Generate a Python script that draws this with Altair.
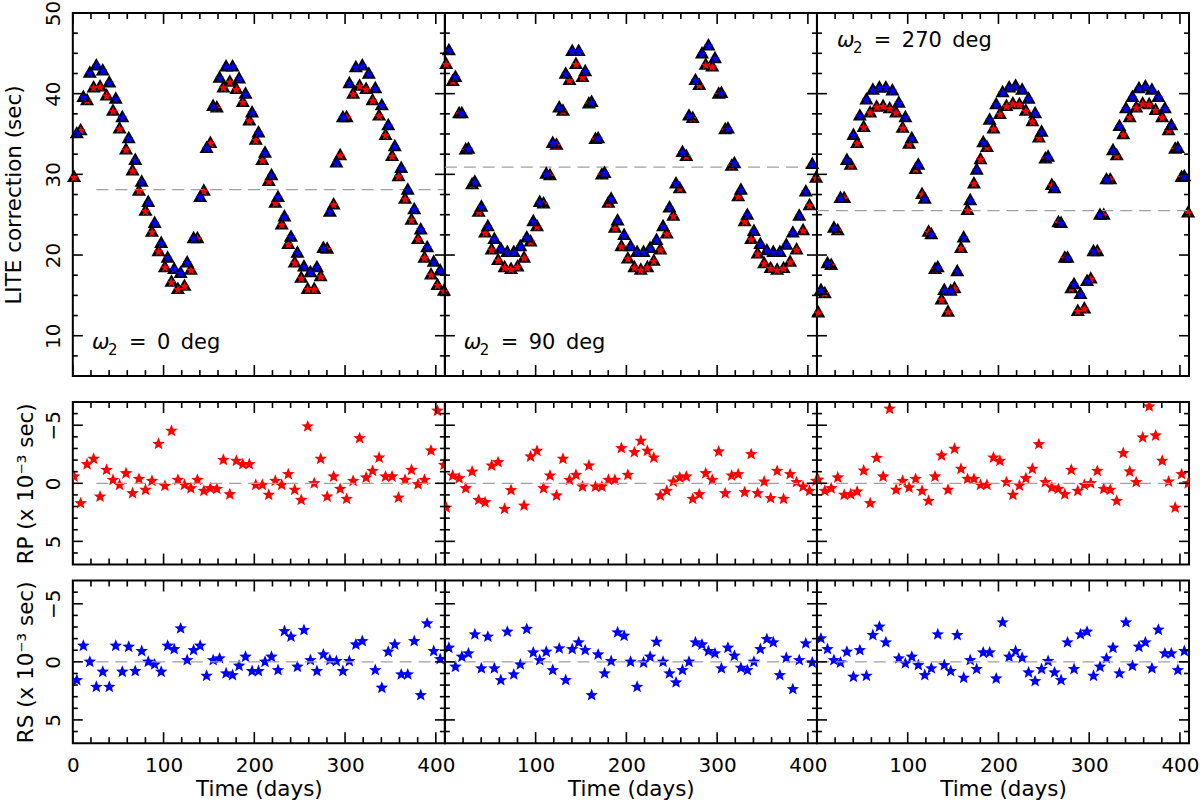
import altair as alt
import pandas as pd

# ---------------- data ----------------
t_red = [1.4, 8.6, 15.7, 22.9, 30.0, 37.2, 44.3, 51.5, 58.6, 65.8, 72.9, 80.1, 87.2, 94.4,
         101.5, 108.7, 115.8, 123.0, 130.1, 137.3, 144.4, 151.6, 158.7, 165.9, 173.0, 180.2,
         187.3, 194.5, 201.6, 208.8, 215.9, 223.1, 230.2, 237.4, 244.5, 251.7, 258.8, 266.0,
         273.1, 280.3, 287.4, 294.6, 301.7, 308.9, 316.0, 323.2, 330.3, 337.5, 344.6, 351.8,
         358.9, 366.1, 373.2, 380.4, 387.5, 394.7, 401.8, 409.0]
t_blue = [4.4, 11.6, 18.7, 25.9, 33.0, 40.2, 47.3, 54.5, 61.6, 68.8, 75.9, 83.1, 90.2, 97.4,
          104.5, 111.7, 118.8, 126.0, 133.1, 140.3, 147.4, 154.6, 161.7, 168.9, 176.0, 183.2,
          190.3, 197.5, 204.6, 211.8, 218.9, 226.1, 233.2, 240.4, 247.5, 254.7, 261.8, 269.0,
          276.1, 283.3, 290.4, 297.6, 304.7, 311.9, 319.0, 326.2, 333.3, 340.5, 347.6, 354.8,
          361.9, 369.1, 376.2, 383.4, 390.5, 397.7, 404.8]

lite_red_w0 = [29.6, 35.4, 39.1, 40.7, 40.8, 39.7, 37.8, 35.6, 33.0, 30.4, 27.9, 25.4, 22.8, 20.4,
               18.4, 16.6, 15.7, 16.1, 18.1, 22.0, 27.9, 33.8, 38.2, 40.7, 41.4, 40.5, 38.9, 36.6,
               34.2, 31.7, 29.1, 26.4, 23.7, 21.3, 19.0, 17.1, 15.7, 15.7, 17.3, 20.7, 26.2, 32.3,
               37.0, 39.9, 40.9, 40.5, 39.1, 37.2, 34.8, 32.2, 29.7, 26.9, 24.3, 21.9, 19.6, 17.5,
               16.2, 15.5]
lite_blue_w0 = [35.0, 39.5, 42.5, 43.4, 42.8, 41.3, 39.3, 37.0, 34.4, 31.7, 29.0, 26.5, 23.9, 21.4,
                19.6, 18.2, 17.7, 19.0, 22.0, 27.1, 33.2, 38.4, 41.9, 43.3, 43.3, 41.8, 39.9, 37.6,
                35.1, 32.6, 29.8, 27.1, 24.7, 22.2, 20.2, 18.5, 17.8, 18.4, 20.8, 25.3, 31.4, 37.0,
                41.2, 43.2, 43.4, 42.4, 40.6, 38.5, 36.0, 33.4, 30.7, 28.0, 25.6, 23.1, 20.9, 19.1,
                18.0]
lite_red_w90 = [43.6, 41.5, 37.5, 33.0, 28.7, 25.3, 22.7, 20.6, 19.3, 18.4, 18.2, 18.5, 19.6, 21.6,
                23.5, 26.3, 29.8, 33.6, 37.8, 41.6, 43.6, 42.0, 38.7, 34.3, 29.9, 26.4, 23.3, 21.0,
                19.5, 18.4, 18.1, 18.4, 19.2, 20.6, 22.6, 24.8, 28.2, 32.2, 36.9, 41.0, 43.5, 43.3,
                39.9, 35.5, 31.0, 27.2, 24.1, 21.9, 20.1, 18.9, 18.3, 18.1, 18.3, 19.1, 20.6, 23.0,
                26.1, 29.5]
lite_blue_w90 = [45.3, 42.0, 37.5, 33.1, 29.0, 25.9, 23.5, 21.9, 20.7, 20.3, 20.3, 21.0, 22.1, 24.1,
                 26.5, 30.0, 33.8, 38.2, 42.4, 45.2, 45.2, 42.7, 38.9, 34.4, 30.1, 26.9, 24.2, 22.4,
                 21.0, 20.3, 20.3, 20.8, 21.8, 23.5, 25.8, 28.8, 32.7, 37.2, 41.6, 44.9, 45.9, 44.3,
                 40.0, 35.6, 31.3, 28.0, 24.9, 22.9, 21.3, 20.5, 20.3, 20.3, 21.2, 22.7, 24.8, 27.8,
                 31.2]
lite_red_w270 = [12.8, 15.2, 18.7, 23.0, 27.0, 31.1, 33.8, 35.8, 37.6, 38.3, 38.4, 38.1, 37.6, 35.7,
                 33.7, 30.6, 27.5, 22.8, 18.2, 14.4, 12.9, 15.8, 20.8, 25.5, 28.8, 31.8, 33.3, 35.6,
                 37.4, 38.4, 38.7, 38.6, 37.8, 36.5, 34.5, 31.9, 28.6, 24.0, 19.6, 15.8, 13.0, 13.3,
                 17.0, 20.4, 24.9, 29.3, 32.3, 34.9, 37.0, 38.2, 38.7, 38.6, 37.9, 37.0, 35.4, 33.1,
                 29.6, 25.2]
lite_blue_w270 = [15.6, 18.9, 23.3, 27.0, 31.7, 34.8, 37.2, 39.2, 40.4, 40.7, 40.7, 40.3, 38.8, 37.0,
                  34.4, 31.1, 26.9, 22.5, 18.4, 15.6, 15.5, 17.9, 22.1, 26.7, 30.5, 33.9, 36.7, 38.6,
                  40.1, 40.7, 40.9, 40.4, 39.3, 37.5, 35.2, 32.1, 28.2, 23.9, 19.6, 16.3, 15.1, 16.7,
                  20.4, 24.9, 29.3, 32.9, 35.9, 38.1, 39.5, 40.6, 40.8, 40.4, 39.5, 38.1, 36.0, 33.2,
                  29.7]

rp_w0 = [-0.58, 1.72, -1.63, -2.1, 1.15, -1.15, -0.29, 0.14, -0.86, 0.86, -0.37, 0.57, -0.2, -3.39,
         0.23, -4.51, -0.29, 0.14, 0.43, -0.29, 0.66, 0.43, 0.49, -2.01, 0.95, -1.93, -1.64, -1.64,
         0.14, 0.14, 1.0, -0.2, 0.14, -0.78, 0.57, 1.44, -4.89, 0.0, -2.1, 1.15, -0.58, 0.49, 1.35,
         -0.2, -3.88, -0.49, -1.06, -2.21, -0.58, -0.58, 1.24, -0.29, -1.15, 0.09, -0.29, -2.82,
         -6.24, -1.58]
rs_w0 = [1.58, -1.38, 0.0, 2.16, 0.86, 2.16, -1.38, 0.86, -1.29, 0.8, -0.92, 0.0, 0.23, 0.86, -1.38,
         -1.09, -2.87, -0.14, -1.0, -1.38, 1.21, -0.14, -0.29, 1.0, 1.15, 0.34, -0.43, 0.8, 0.8, 0.0,
         -0.43, 0.72, -2.64, -2.16, 0.43, -2.73, -0.14, 0.8, -0.63, -0.14, -0.06, 0.8, -0.06, -1.49,
         -1.78, None, 0.72, 2.24, -0.86, -1.49, 1.09, 1.09, -1.78, 2.87, -3.3, -0.92, -0.23]
rp_w90 = [2.1, -0.66, -0.43, 0.43, -1.0, 1.44, 1.64, -1.52, -1.81, 2.21, 0.6, None, 1.93, -2.3,
          -2.79, 0.43, -0.66, 1.06, -2.1, -0.29, -0.72, 0.29, -1.52, 0.29, 0.29, -0.29, -0.29,
          -3.02, -0.72, -2.67, -3.65, -2.79, -2.21, 1.06, 0.66, -0.14, -0.49, -0.58, 1.35, 0.95,
          -0.86, -0.29, -2.73, 0.86, -0.66, -0.78, 0.78, -2.5, 0.86, -0.14, 1.29, -1.06, 1.35,
          -0.78, -0.09, 0.29, 0.66, -0.2]
rs_w90 = [-1.21, 0.43, -0.43, -0.72, -2.36, 0.57, -2.16, 0.57, 1.58, -2.59, 1.09, 0.23, -2.82, -0.8,
          -0.14, -0.86, 0.72, -1.15, 1.58, -1.09, -1.67, -1.0, 2.87, -0.63, 1.0, -0.06, -2.53, -2.24,
          0.0, 2.16, 0.06, -0.43, -1.72, 0.0, 1.0, 1.78, 0.72, 0.0, -1.67, -1.49, -0.92, -0.72, 0.57,
          -1.21, -0.52, 0.52, 0.72, 0.0, -1.09, -1.95, -1.67, 1.15, -0.34, 2.36, -0.14, -1.58, 0.06]
rp_w270 = [-0.3, 0.66, 0.43, -0.49, 1.0, 0.95, 0.72, -1.09, 1.72, -2.18, -0.58, -6.41, 0.57, -0.2,
           0.37, -0.37, 0.66, 1.52, -0.58, -2.39, 0.57, -2.96, -1.24, -0.37, -0.37, 0.14, 0.14,
           -2.21, -1.93, -0.09, 1.0, 0.2, -0.43, -1.24, -3.36, -0.09, 0.37, 0.49, 0.95, -1.15, 0.66,
           0.14, 0.0, -1.06, 0.49, 0.57, 1.52, -2.59, -1.01, -0.09, -3.94, -6.61, -4.11, -1.93,
           -0.14, 2.1, -0.78, 0.0]
rs_w270 = [-2.01, -1.09, -0.14, 0.06, -0.86, 1.29, -1.0, 1.21, -2.3, -3.02, -1.67, None, -0.29, 0.14,
           -0.43, 0.29, 1.15, 0.57, -2.36, 0.29, 0.8, -2.3, 1.38, -0.14, 0.63, -0.8, -0.8, 1.44,
           -3.39, -0.43, -0.92, -0.34, 0.92, 1.67, 0.63, -0.06, 0.92, 1.58, -1.67, 0.63, -2.36,
           -2.59, 1.21, 0.43, -0.29, -1.21, 1.0, -3.39, 0.34, -1.29, -1.67, 0.57, -2.76, -0.72,
           -0.72, 0.72, -0.92]

lite_mean = [28.1, 30.9, 25.5]
dash_start = [26, 0, 0]
omega_values = ["0", "90", "270"]
omega_x = [21.2, 20.9, 22.0]
omega_y = [8.4, 8.4, 45.8]

x_labels_first = [0, 100, 200, 300, 400]
x_labels_other = [100, 200, 300, 400]
x_major = [0, 100, 200, 300, 400]
x_minor = [20, 40, 60, 80, 120, 140, 160, 180, 220, 240, 260, 280, 320, 340, 360, 380]
lite_major = [10, 20, 30, 40, 50]
lite_minor = [7.5, 12.5, 15, 17.5, 22.5, 25, 27.5, 32.5, 35, 37.5, 42.5, 45, 47.5]
res_major = [-5, 0, 5]
res_minor = [-6, -4, -3, -2, -1, 1, 2, 3, 4, 6]

# ---------------- styling ----------------
FONT = "DejaVu Sans"
W = 373
HT = 364
HR = 163
LEFT_EXT = 72
TRI = "M0,-1.15L1,0.62L-1,0.62Z"
STAR = ("M0,-1L0.26,-0.34L0.95,-0.31L0.41,0.13L0.59,0.81L0,0.43L-0.59,0.81L-0.41,0.13"
        "L-0.95,-0.31L-0.26,-0.34Z")
RED = "#ff0000"
BLUE = "#0000ff"

XS = alt.Scale(domain=[0, 410], nice=False, zero=False)
YS_T = alt.Scale(domain=[5, 50], nice=False, zero=False)
YS_R = alt.Scale(domain=[-7, 7], nice=False, zero=False, reverse=True)


def x_axis(bottom, c):
    if not bottom:
        return None
    return alt.Axis(values=x_labels_first if c == 0 else x_labels_other, format="d",
                    labelFlush=False, ticks=False, tickSize=0, domain=False, grid=False,
                    title="Time (days)", labelFontSize=20, titleFontSize=21.5,
                    labelPadding=12, titlePadding=3, labelOverlap=False)


def y_axis(first, values, title, tpad):
    if not first:
        return None
    return alt.Axis(values=values, labelAngle=-90, ticks=False, tickSize=0, domain=False,
                    grid=False, title=title, labelFontSize=20, titleFontSize=21.5,
                    labelPadding=9, titlePadding=tpad, labelOverlap=False)


def tick_layers(xa, ya, yscale, ymaj, ymin, H):
    out = []
    for vals, L in ((ymaj, 10), (ymin, 5)):
        d = alt.Chart(pd.DataFrame({"v": vals})).mark_rule(color="black", strokeWidth=1.6)
        yy = alt.Y("v:Q", scale=yscale, axis=ya)
        out.append(d.encode(y=yy, x=alt.value(0), x2=alt.value(L)))
        out.append(d.encode(y=yy, x=alt.value(W), x2=alt.value(W - L)))
    for vals, L in ((x_major, 11), (x_minor, 6)):
        d = alt.Chart(pd.DataFrame({"v": vals})).mark_rule(color="black", strokeWidth=1.6)
        xx = alt.X("v:Q", scale=XS, axis=xa)
        out.append(d.encode(x=xx, y=alt.value(H), y2=alt.value(H - L)))
        out.append(d.encode(x=xx, y=alt.value(0), y2=alt.value(L)))
    return out


def spacer(H):
    # invisible, empty text that gives every row the same left extent
    return alt.Chart(pd.DataFrame({"s": [""]})).mark_text(opacity=0).encode(
        x=alt.value(-LEFT_EXT), y=alt.value(H / 2), text="s:N")


def dashed(c, yval, yscale, xa, ya):
    d = pd.DataFrame({"x0": [dash_start[c]], "x1": [410], "y": [yval]})
    return alt.Chart(d).mark_rule(color="#a0a0a0", strokeDash=[12, 7], strokeWidth=1.3).encode(
        x=alt.X("x0:Q", scale=XS, axis=xa), x2="x1:Q",
        y=alt.Y("y:Q", scale=yscale, axis=ya))


def top_panel(c, red, blue):
    xa = x_axis(False, c)
    ya = y_axis(c == 0, lite_major, "LITE correction (sec)", 18)
    dr = pd.DataFrame({"t": t_red, "v": red})
    db = pd.DataFrame({"t": t_blue, "v": blue})
    enc = dict(x=alt.X("t:Q", scale=XS, axis=xa), y=alt.Y("v:Q", scale=YS_T, axis=ya))
    tri_r = alt.Chart(dr).mark_point(shape=TRI, filled=True, color="black", size=200,
                                     opacity=1, strokeWidth=0).encode(**enc)
    star_r = alt.Chart(dr).mark_point(shape=STAR, filled=True, color=RED, size=95,
                                      opacity=1, strokeWidth=0).encode(**enc)
    tri_b = alt.Chart(db).mark_point(shape=TRI, filled=True, color="black", size=200,
                                     opacity=1, strokeWidth=0).encode(**enc)
    star_b = alt.Chart(db).mark_point(shape=STAR, filled=True, color=BLUE, size=95,
                                      opacity=1, strokeWidth=0).encode(**enc)
    lab = pd.DataFrame({"x": [omega_x[c]], "y": [omega_y[c]], "a": ["ω"], "s": ["2"],
                        "b": ["=\u2002" + omega_values[c] + "\u2002deg"]})
    tenc = dict(x=alt.X("x:Q", scale=XS, axis=xa), y=alt.Y("y:Q", scale=YS_T, axis=ya))
    t1 = alt.Chart(lab).mark_text(align="left", baseline="alphabetic", fontSize=21, font=FONT,
                                  fontStyle="italic", color="black").encode(text="a:N", **tenc)
    t2 = alt.Chart(lab).mark_text(align="left", baseline="alphabetic", fontSize=15, font=FONT,
                                  dx=16, dy=6, color="black").encode(text="s:N", **tenc)
    t3 = alt.Chart(lab).mark_text(align="left", baseline="alphabetic", fontSize=21, font=FONT,
                                  dx=37, color="black").encode(text="b:N", **tenc)
    layers = [tri_r, dashed(c, lite_mean[c], YS_T, xa, ya), star_r, tri_b, star_b, t1, t2, t3]
    layers += tick_layers(xa, ya, YS_T, lite_major, lite_minor, HT)
    if c == 0:
        layers.append(spacer(HT))
    return alt.layer(*layers).properties(width=W, height=HT)


def res_panel(c, times, vals, color, title, bottom):
    xa = x_axis(bottom, c)
    ya = y_axis(c == 0, res_major, title, 6)
    d = pd.DataFrame({"t": times, "v": vals})
    pts = alt.Chart(d).mark_point(shape=STAR, filled=True, color=color, size=175, opacity=1,
                                  strokeWidth=0, clip=True).encode(
        x=alt.X("t:Q", scale=XS, axis=xa), y=alt.Y("v:Q", scale=YS_R, axis=ya))
    layers = [pts, dashed(c, 0, YS_R, xa, ya)]
    layers += tick_layers(xa, ya, YS_R, res_major, res_minor, HR)
    if c == 0:
        layers.append(spacer(HR))
    return alt.layer(*layers).properties(width=W, height=HR)


top = alt.hconcat(top_panel(0, lite_red_w0, lite_blue_w0),
                  top_panel(1, lite_red_w90, lite_blue_w90),
                  top_panel(2, lite_red_w270, lite_blue_w270),
                  spacing=0, bounds="flush")
mid = alt.hconcat(res_panel(0, t_red, rp_w0, RED, "RP (x 10⁻³ sec)", False),
                  res_panel(1, t_red, rp_w90, RED, "RP (x 10⁻³ sec)", False),
                  res_panel(2, t_red, rp_w270, RED, "RP (x 10⁻³ sec)", False),
                  spacing=0, bounds="flush")
bot = alt.hconcat(res_panel(0, t_blue, rs_w0, BLUE, "RS (x 10⁻³ sec)", True),
                  res_panel(1, t_blue, rs_w90, BLUE, "RS (x 10⁻³ sec)", True),
                  res_panel(2, t_blue, rs_w270, BLUE, "RS (x 10⁻³ sec)", True),
                  spacing=0, bounds="flush")

chart = alt.vconcat(top, alt.vconcat(mid, bot, spacing=12), spacing=22).properties(
    padding={"left": 0, "top": -2, "right": 0, "bottom": 0}
).configure_view(stroke="black", strokeWidth=2).configure_axis(
    labelFont=FONT, titleFont=FONT, labelColor="black", titleColor="black",
    titleFontWeight="normal")

chart.save("out.html", embed_options={"renderer": "svg", "actions": False})
